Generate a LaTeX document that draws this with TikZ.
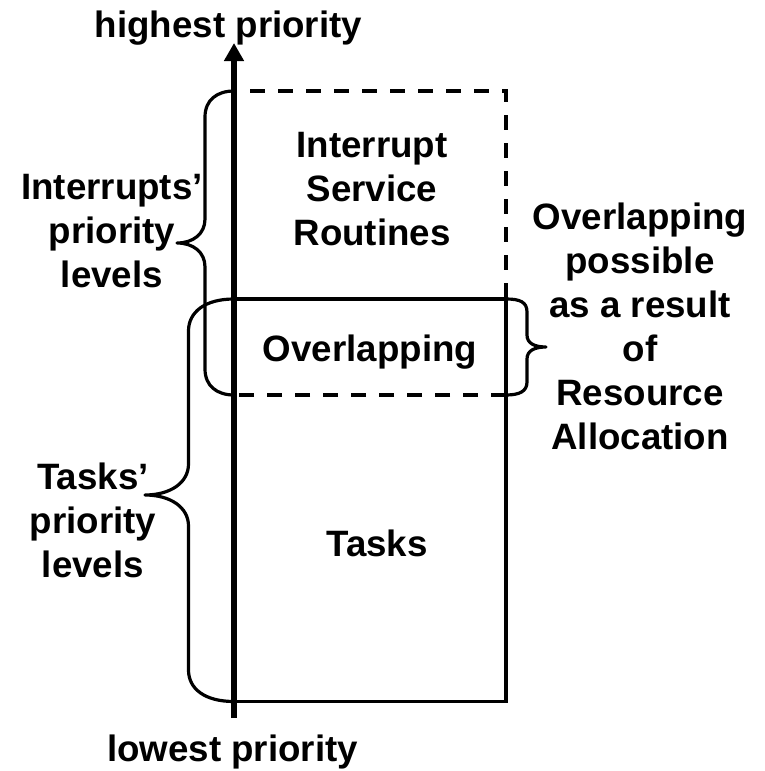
\documentclass[tikz,border=0pt]{standalone}
\usepackage{fontspec}
\setmainfont{Liberation Sans}
\usetikzlibrary{arrows.meta}
\begin{document}
\begin{tikzpicture}[x=1pt,y=-1pt,
  lbl/.style={font=\bfseries\fontsize{36.7}{44}\selectfont, inner sep=0pt, align=center},
  box/.style={line width=3.5pt},
  brace/.style={line width=3.2pt, line join=round},
  axis/.style={line width=6pt, -{Triangle[width=19pt,length=18pt]}}]
\useasboundingbox (0,0) rectangle (764,771);

% key points
\coordinate (axbot) at (234,718);
\coordinate (axtop) at (234,43);
\coordinate (dtl) at (234,91);
\coordinate (dtr) at (506,91);
\coordinate (dbr) at (506,395);
\coordinate (dbl) at (234,395);
\coordinate (stl) at (234,299);
\coordinate (str) at (506,299);
\coordinate (sbr) at (506,701.5);
\coordinate (sbl) at (234,701.5);

% braces
\draw[brace] (dtl) .. controls (217,91) and (205,100) .. (205,117)
  -- (205,219) .. controls (205,234) and (193,243) .. (177,243)
  .. controls (193,243) and (205,252) .. (205,267)
  -- (205,369) .. controls (205,386) and (217,395) .. (dbl);
\draw[brace] (stl) .. controls (205,299) and (188.5,312) .. (188.5,331)
  -- (188.5,464) .. controls (188.5,483) and (170,495) .. (145,495)
  .. controls (170,495) and (188.5,507) .. (188.5,526)
  -- (188.5,670) .. controls (188.5,689) and (205,701.5) .. (sbl);
\draw[brace] (str) .. controls (520,299) and (527,302) .. (527,312)
  -- (527,335) .. controls (527,343) and (534,347) .. (546,347)
  .. controls (534,347) and (527,351) .. (527,359)
  -- (527,382) .. controls (527,391) and (520,395) .. (dbr);

% boxes
\draw[box, dash pattern=on 15pt off 13pt, dash phase=12pt] (dtl) -- (dtr) -- (dbr) -- (dbl);
\draw[box] (stl) -- (str) -- (sbr) -- (sbl);

% axis
\draw[axis] (axbot) -- (axtop);

% texts
\node[lbl, anchor=base] (high) at (228.5,37) {highest priority};
\node[lbl, anchor=base] (low) at (232.5,761) {lowest priority};
\node[lbl] (isr) at (372,189) {Interrupt\\Service\\Routines};
\node[lbl, anchor=base] (ovl) at (370,361) {Overlapping};
\node[lbl, anchor=base] (tasks) at (377,556) {Tasks};
\node[lbl] (ilev) at (112,231) {Interrupts’\\priority\\levels};
\node[lbl] (tlev) at (93,520) {Tasks’\\priority\\levels};
\node[lbl] (res) at (640,326) {Overlapping\\possible\\as a result\\of\\Resource\\Allocation};
\end{tikzpicture}
\end{document}
